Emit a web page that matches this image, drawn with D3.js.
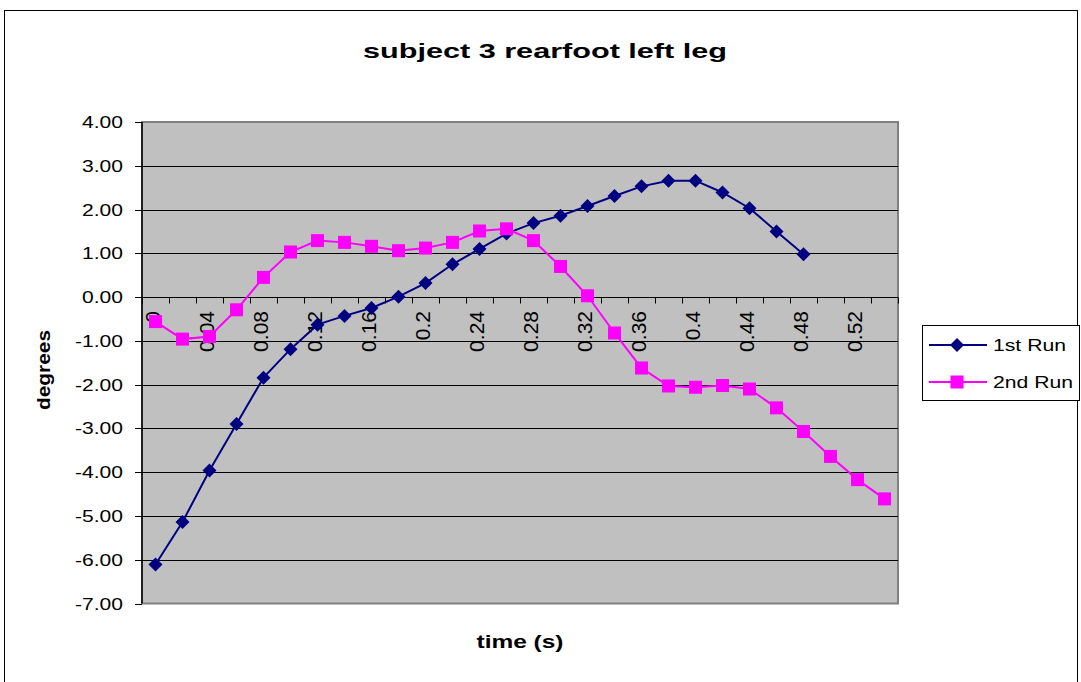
<!DOCTYPE html>
<html>
<head>
<meta charset="utf-8">
<script src="https://cdn.jsdelivr.net/npm/d3@7/dist/d3.min.js"></script>
<style>
  html, body { margin: 0; padding: 0; background: #fff; }
  svg { display: block; font-family: Arial, "Liberation Sans", sans-serif; }
</style>
</head>
<body>
<svg id="chart" width="1081" height="682"></svg>
<script>
// Time samples (s) on the category axis
const times = ["0","0.02","0.04","0.06","0.08","0.1","0.12","0.14","0.16","0.18","0.2","0.22","0.24","0.26",
               "0.28","0.3","0.32","0.34","0.36","0.38","0.4","0.42","0.44","0.46","0.48","0.5","0.52","0.54"];
// Rearfoot angle (degrees), first run
const run1 = [-6.11,-5.14,-3.96,-2.90,-1.84,-1.19,-0.63,-0.43,-0.25,0.01,0.32,0.75,1.10,1.45,
              1.69,1.86,2.08,2.31,2.53,2.66,2.66,2.39,2.03,1.50,0.98];
// Rearfoot angle (degrees), second run
const run2 = [-0.56,-0.96,-0.90,-0.29,0.45,1.03,1.29,1.25,1.16,1.06,1.12,1.25,1.51,1.56,
              1.29,0.70,0.03,-0.82,-1.62,-2.03,-2.06,-2.02,-2.10,-2.53,-3.07,-3.64,-4.17,-4.61];
const yTicks = [4,3,2,1,0,-1,-2,-3,-4,-5,-6,-7];
const xTickLabels = times.filter((d, i) => i % 2 === 0);
const seriesNames = ["1st Run", "2nd Run"];

const svg = d3.select("#chart");
const X0 = 142, X1 = 898, Y0 = 122, Y1 = 603.5;
const HS = 1.24; // horizontal stretch of the chart's upright text

const x = d3.scaleBand().domain(times).range([X0, X1]).padding(0);
const y = d3.scaleLinear().domain([-7, 4]).range([Y1, Y0]);

// outer chart frame
svg.append("rect").attr("x", 4.5).attr("y", 10.5).attr("width", 1073).attr("height", 700)
  .attr("fill", "#fff").attr("stroke", "#000").attr("stroke-width", 1);

// plot area
svg.append("rect").attr("x", X0).attr("y", Y0).attr("width", X1 - X0).attr("height", Y1 - Y0)
  .attr("fill", "#c0c0c0").attr("stroke", "#808080").attr("stroke-width", 2);

// horizontal gridlines
svg.append("g").selectAll("line").data(yTicks.filter(d => d > -7 && d < 4)).join("line")
  .attr("x1", X0).attr("x2", X1)
  .attr("y1", d => Math.round(y(d)) + 0.5).attr("y2", d => Math.round(y(d)) + 0.5)
  .attr("stroke", "#000").attr("stroke-width", 1);

// value axis
const yAxis = svg.append("g");
yAxis.append("line").attr("x1", X0).attr("x2", X0).attr("y1", Y0).attr("y2", Y1)
  .attr("stroke", "#000").attr("stroke-width", 1.5);
yAxis.selectAll("line.tick").data(yTicks).join("line").attr("class", "tick")
  .attr("x1", X0 - 7).attr("x2", X0)
  .attr("y1", d => Math.round(y(d)) + 0.5).attr("y2", d => Math.round(y(d)) + 0.5)
  .attr("stroke", "#000").attr("stroke-width", 1);
yAxis.selectAll("text").data(yTicks).join("text")
  .attr("transform", d => `translate(123,${y(d) + 6}) scale(${HS},1)`)
  .attr("text-anchor", "end").attr("font-size", 17).attr("fill", "#000")
  .text(d => d.toFixed(2));

// category axis crossing at zero
const y0 = Math.round(y(0)) + 0.5;
const xAxis = svg.append("g");
xAxis.append("line").attr("x1", X0).attr("x2", X1).attr("y1", y0).attr("y2", y0)
  .attr("stroke", "#000").attr("stroke-width", 1);
const bounds = d3.range(times.length + 1).map(i => X0 + i * x.bandwidth());
xAxis.selectAll("line.tick").data(bounds).join("line").attr("class", "tick")
  .attr("x1", d => Math.round(d) + 0.5).attr("x2", d => Math.round(d) + 0.5)
  .attr("y1", y0).attr("y2", y0 + 6)
  .attr("stroke", "#000").attr("stroke-width", 1);
xAxis.selectAll("text").data(xTickLabels).join("text")
  .attr("transform", d => `translate(${x(d) + x.bandwidth() / 2 + 4.5},311) rotate(-90)`)
  .attr("text-anchor", "end").attr("font-size", 21).attr("fill", "#000")
  .text(d => d);

// series lines and markers
const line = d3.line().x((d, i) => x(times[i]) + x.bandwidth() / 2).y(d => y(d));
const c1 = "#000080", c2 = "#ff00ff";

svg.append("path").datum(run1).attr("d", line)
  .attr("fill", "none").attr("stroke", c1).attr("stroke-width", 2);
svg.append("path").datum(run2).attr("d", line)
  .attr("fill", "none").attr("stroke", c2).attr("stroke-width", 2);

const diamond = "M0,-7L7,0L0,7L-7,0Z";
svg.append("g").selectAll("path").data(run1).join("path")
  .attr("transform", (d, i) => `translate(${x(times[i]) + x.bandwidth() / 2},${y(d)})`)
  .attr("d", diamond).attr("fill", c1);
svg.append("g").selectAll("rect").data(run2).join("rect")
  .attr("x", (d, i) => x(times[i]) + x.bandwidth() / 2 - 6.5)
  .attr("y", d => y(d) - 6.5)
  .attr("width", 13).attr("height", 13).attr("fill", c2);

// title
svg.append("text").attr("x", 545).attr("y", 58).attr("text-anchor", "middle")
  .attr("font-size", 21).attr("font-weight", "bold").attr("textLength", 364)
  .attr("lengthAdjust", "spacingAndGlyphs")
  .text("subject 3 rearfoot left leg");

// axis titles
svg.append("text").attr("x", 520).attr("y", 648).attr("text-anchor", "middle")
  .attr("font-size", 18).attr("font-weight", "bold").attr("textLength", 87)
  .attr("lengthAdjust", "spacingAndGlyphs")
  .text("time (s)");
svg.append("text").attr("transform", "translate(50,370) rotate(-90)").attr("text-anchor", "middle")
  .attr("font-size", 18).attr("font-weight", "bold").attr("textLength", 80)
  .attr("lengthAdjust", "spacingAndGlyphs")
  .text("degrees");

// legend
const lg = svg.append("g");
lg.append("rect").attr("x", 922.5).attr("y", 325.5).attr("width", 157).attr("height", 75)
  .attr("fill", "#fff").attr("stroke", "#000").attr("stroke-width", 1);
const legendRows = [
  { name: seriesNames[0], color: c1, y: 345, shape: "diamond", w: 73 },
  { name: seriesNames[1], color: c2, y: 382, shape: "square", w: 80 }
];
legendRows.forEach(r => {
  lg.append("line").attr("x1", 929).attr("x2", 987).attr("y1", r.y).attr("y2", r.y)
    .attr("stroke", r.color).attr("stroke-width", 2);
  if (r.shape === "diamond") {
    lg.append("path").attr("transform", `translate(957,${r.y})`).attr("d", diamond).attr("fill", r.color);
  } else {
    lg.append("rect").attr("x", 957 - 6.5).attr("y", r.y - 6.5).attr("width", 13).attr("height", 13)
      .attr("fill", r.color);
  }
  lg.append("text").attr("x", 993).attr("y", r.y + 6).attr("font-size", 17)
    .attr("textLength", r.w).attr("lengthAdjust", "spacingAndGlyphs")
    .text(r.name);
});
</script>
</body>
</html>
